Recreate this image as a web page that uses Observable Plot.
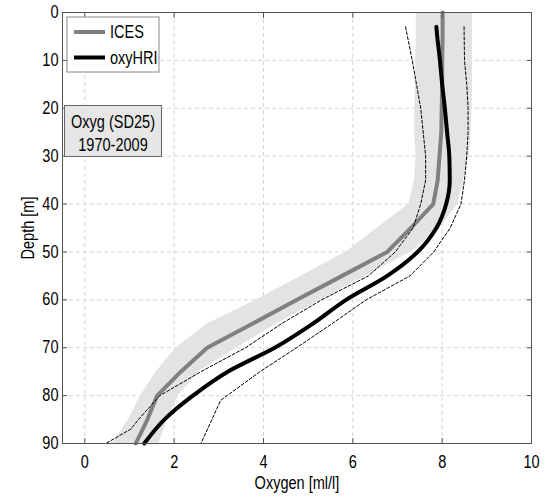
<!DOCTYPE html>
<html>
<head>
<meta charset="utf-8">
<script src="https://cdn.jsdelivr.net/npm/d3@7"></script>
<script src="https://cdn.jsdelivr.net/npm/@observablehq/plot@0.6"></script>
<style>
  html, body { margin: 0; padding: 0; background: #fff; }
  #chart { width: 545px; height: 496px; }
</style>
</head>
<body>
<div id="chart"></div>
<script>
// ---- data ----
const icesDepth = [0, 5, 10, 15, 20, 25, 30, 35, 40, 45, 50, 55, 60, 65, 70, 75, 80, 85, 90];
const icesMean  = [8.01, 8.01, 8.0, 8.0, 7.99, 7.98, 7.94, 7.9, 7.8, 7.3, 6.77, 5.76, 4.75, 3.75, 2.74, 2.15, 1.62, 1.4, 1.14];
const icesLow   = [7.42, 7.42, 7.41, 7.40, 7.39, 7.38, 7.42, 7.38, 7.26, 6.55, 5.85, 4.85, 3.85, 2.75, 2.05, 1.6, 1.25, 0.98, 0.62];
const icesHigh  = [8.68, 8.68, 8.68, 8.68, 8.67, 8.65, 8.6, 8.48, 8.35, 7.96, 7.3, 6.3, 5.3, 4.3, 3.4, 2.55, 2.1, 1.85, 1.66];

const hriDepth = [3, 5, 10, 15, 20, 25, 30, 35, 40, 45, 50, 55, 60, 65, 70, 75, 80, 85, 90];
const hriMean  = [7.87, 7.89, 7.95, 8.0, 8.06, 8.11, 8.16, 8.17, 8.09, 7.87, 7.45, 6.77, 5.85, 5.1, 4.25, 3.2, 2.42, 1.78, 1.33];

const hriLowDepth = [3, 10, 20, 30, 35, 40, 45, 50, 55, 60, 65, 70, 75, 80, 85, 87, 90];
const hriLow      = [7.18, 7.33, 7.52, 7.63, 7.63, 7.52, 7.35, 6.95, 6.35, 5.3, 4.4, 3.6, 2.6, 1.68, 1.2, 1.03, 0.47];

const hriHighDepth = [3, 10, 15, 20, 25, 30, 35, 40, 45, 50, 55, 60, 65, 70, 75, 81, 90];
const hriHigh      = [8.49, 8.5, 8.55, 8.58, 8.58, 8.55, 8.5, 8.42, 8.18, 7.81, 7.28, 6.3, 5.53, 4.74, 3.92, 3.04, 2.6];

const xTicks = [0, 2, 4, 6, 8, 10];
const yTicks = [0, 10, 20, 30, 40, 50, 60, 70, 80, 90];
const seriesNames = ["ICES", "oxyHRI"];
const xLabel = "Oxygen [ml/l]";
const yLabel = "Depth [m]";
const noteLines = ["Oxyg (SD25)", "1970-2009"];

// ---- tables ----
const ices = icesDepth.map((d, i) => ({depth: d, mean: icesMean[i], lo: icesLow[i], hi: icesHigh[i]}));
const hri = hriDepth.map((d, i) => ({depth: d, v: hriMean[i]}));
const hriL = hriLowDepth.map((d, i) => ({depth: d, v: hriLow[i]}));
const hriH = hriHighDepth.map((d, i) => ({depth: d, v: hriHigh[i]}));

const FONT = "'Liberation Sans', Arial, Helvetica, sans-serif";
const FS = 17.5;
const SQUEEZE = 0.83;
const AXIS = "#555";

const svg = Plot.plot({
  width: 545,
  height: 496,
  marginLeft: 62,
  marginRight: 14,
  marginTop: 12,
  marginBottom: 53,
  style: {fontFamily: FONT, fontSize: FS + "px", color: "#000", background: "#fff"},
  x: {domain: [-0.5, 10], label: null},
  y: {domain: [0, 90], reverse: true, label: null},
  marks: [
    Plot.gridX(xTicks, {stroke: "#d4d4d4", strokeOpacity: 1, strokeDasharray: "4,3"}),
    Plot.gridY(yTicks, {stroke: "#d4d4d4", strokeOpacity: 1, strokeDasharray: "4,3"}),
    Plot.areaX(ices, {y: "depth", x1: "lo", x2: "hi", fill: "#e3e3e3"}),
    Plot.lineX(ices, {y: "depth", x: "mean", stroke: "#808080", strokeWidth: 4}),
    Plot.lineX(hriL, {y: "depth", x: "v", stroke: "#000", strokeWidth: 1, strokeDasharray: "3,2"}),
    Plot.lineX(hriH, {y: "depth", x: "v", stroke: "#000", strokeWidth: 1, strokeDasharray: "3,2"}),
    Plot.lineX(hri, {y: "depth", x: "v", stroke: "#000", strokeWidth: 4, curve: "monotone-y"}),
    Plot.frame({stroke: AXIS}),
    Plot.axisX(xTicks, {anchor: "bottom", tickSize: -5, tickPadding: 17, stroke: AXIS, fill: "#000", label: null}),
    Plot.axisX(xTicks, {anchor: "top", tickSize: -5, stroke: AXIS, fill: "none", label: null}),
    Plot.axisY(yTicks, {anchor: "left", tickSize: -5, tickPadding: 9, stroke: AXIS, fill: "#000", label: null}),
    Plot.axisY(yTicks, {anchor: "right", tickSize: -5, stroke: AXIS, fill: "none", label: null})
  ]
});

document.getElementById("chart").appendChild(svg);

const s = d3.select(svg);

// ---- axis titles, legend, note ----
function label(g, x, y, txt, anchor, extra) {
  return g.append("text")
    .attr("transform", `translate(${x},${y})${extra || ""}`)
    .attr("text-anchor", anchor)
    .attr("font-family", FONT).attr("font-size", FS).attr("fill", "#000")
    .text(txt);
}
label(s, 297, 489, xLabel, "middle");
label(s, 34, 228, yLabel, "middle", " rotate(-90)");

const lg = s.append("g");
lg.append("rect").attr("x", 67).attr("y", 17).attr("width", 92).attr("height", 55)
  .attr("fill", "#fff").attr("stroke", "#888").attr("stroke-width", 1);
const legendStyles = [{stroke: "#808080", y: 32}, {stroke: "#000", y: 57.5}];
seriesNames.forEach((name, i) => {
  lg.append("line").attr("x1", 74).attr("x2", 105).attr("y1", legendStyles[i].y).attr("y2", legendStyles[i].y)
    .attr("stroke", legendStyles[i].stroke).attr("stroke-width", 4);
  label(lg, 110, legendStyles[i].y + 6, name, "start");
});

const nb = s.append("g");
nb.append("rect").attr("x", 64.5).attr("y", 105.5).attr("width", 97).attr("height", 51)
  .attr("fill", "#e6e6e6").attr("stroke", "#666").attr("stroke-width", 1);
noteLines.forEach((t, i) => {
  label(nb, 113, 128 + i * 23, t, "middle");
});

// narrow the Helvetica-like glyphs, as in the reference
s.selectAll("text").each(function () {
  const len = this.getComputedTextLength();
  if (len > 0) {
    this.setAttribute("textLength", (len * SQUEEZE).toFixed(2));
    this.setAttribute("lengthAdjust", "spacingAndGlyphs");
  }
});
</script>
</body>
</html>
